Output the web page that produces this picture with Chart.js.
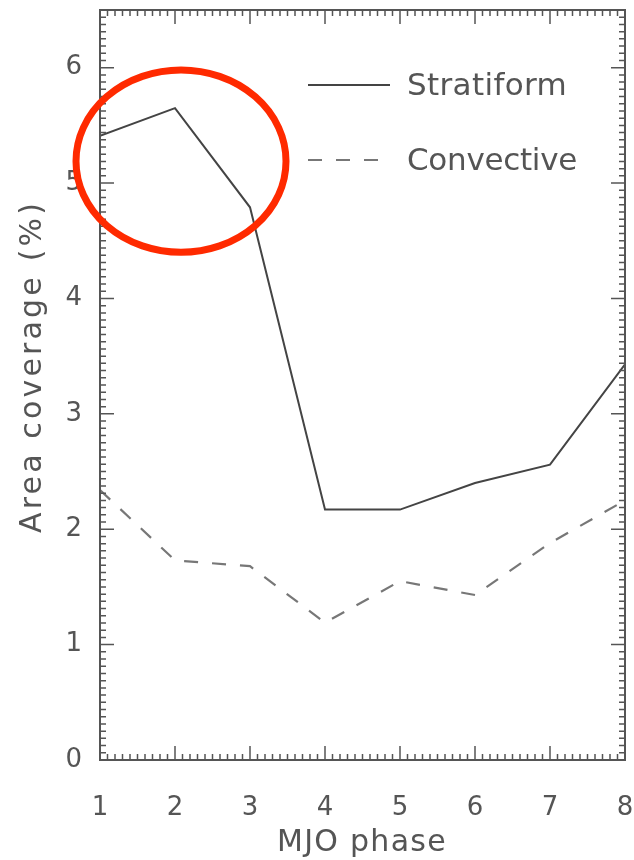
<!DOCTYPE html>
<html>
<head>
<meta charset="utf-8">
<script src="https://cdn.jsdelivr.net/npm/chart.js@4"></script>
<style>
  html, body { margin: 0; padding: 0; background: #fff; }
  #wrap { width: 634px; height: 860px; }
</style>
</head>
<body>
<div id="wrap"><canvas id="chart" width="634" height="860"></canvas></div>
<script>
// MJO phase and area coverage (%)
const phases = [1, 2, 3, 4, 5, 6, 7, 8];
const stratiform = [5.41, 5.65, 4.79, 2.17, 2.17, 2.40, 2.56, 3.43];
const convective = [2.34, 1.73, 1.68, 1.19, 1.55, 1.43, 1.88, 2.25];
const yTicks = [0, 1, 2, 3, 4, 5, 6];
const xTicks = [1, 2, 3, 4, 5, 6, 7, 8];
const seriesNames = ['Stratiform', 'Convective'];
const xTitle = 'MJO phase';
const yTitle = 'Area coverage (%)';

const ink = '#555';
const font = '"DejaVu Sans", sans-serif';

// draw text stretched to a given width (the original font is very wide)
function wideText(ctx, text, x, y, width, size) {
    ctx.font = size + 'px ' + font;
    ctx.letterSpacing = '0px';
    const w = ctx.measureText(text).width;
    const extra = (width - w) / text.length;
    ctx.letterSpacing = extra.toFixed(2) + 'px';
    ctx.fillText(text, x, y);
    ctx.letterSpacing = '0px';
}

function noPad(s) {
    s.paddingTop = 0; s.paddingBottom = 0;
    s.paddingLeft = 0; s.paddingRight = 0;
}

// frame with inward ticks on all four sides, titles, legend and highlight ring
const framePlugin = {
    id: 'frame',
    afterDraw(chart) {
        const ctx = chart.ctx;
        const a = chart.chartArea;
        const xs = chart.scales.x, ys = chart.scales.y;
        ctx.save();
        ctx.strokeStyle = ink;
        ctx.lineWidth = 2;
        ctx.strokeRect(a.left, a.top, a.right - a.left, a.bottom - a.top);

        ctx.lineWidth = 1.5;
        ctx.beginPath();
        for (let v = 1; v <= 8.0001; v += 0.1) {
            const px = xs.getPixelForValue(v);
            const major = Math.abs(v - Math.round(v)) < 0.01;
            const len = major ? 14 : 6;
            ctx.moveTo(px, a.bottom); ctx.lineTo(px, a.bottom - len);
            ctx.moveTo(px, a.top); ctx.lineTo(px, a.top + len);
        }
        for (let v = 0; v <= 6.5; v += 1 / 16) {
            const py = ys.getPixelForValue(v);
            const major = Math.abs(v - Math.round(v)) < 0.01;
            const len = major ? 14 : 6;
            ctx.moveTo(a.left, py); ctx.lineTo(a.left + len, py);
            ctx.moveTo(a.right, py); ctx.lineTo(a.right - len, py);
        }
        ctx.stroke();

        ctx.fillStyle = ink;
        ctx.textBaseline = 'middle';

        // axis titles
        wideText(ctx, xTitle, 277, 843, 170, 30);
        ctx.save();
        ctx.translate(33, 533);
        ctx.rotate(-Math.PI / 2);
        wideText(ctx, yTitle, 0, 0, 333, 30);
        ctx.restore();

        // legend
        ctx.strokeStyle = '#444';
        ctx.lineWidth = 2;
        ctx.beginPath();
        ctx.moveTo(308, 85); ctx.lineTo(390, 85);
        ctx.stroke();
        wideText(ctx, seriesNames[0], 407, 87, 160, 31);
        ctx.strokeStyle = '#777';
        ctx.setLineDash([14, 14]);
        ctx.beginPath();
        ctx.moveTo(308, 160); ctx.lineTo(390, 160);
        ctx.stroke();
        ctx.setLineDash([]);
        wideText(ctx, seriesNames[1], 407, 162, 170, 31);

        // red highlight ring
        const cx = xs.getPixelForValue(2.08), cy = ys.getPixelForValue(5.19);
        const rx = xs.getPixelForValue(3.48) - cx, ry = cy - ys.getPixelForValue(5.98);
        ctx.strokeStyle = '#ff2a00';
        ctx.lineWidth = 7;
        ctx.beginPath();
        ctx.ellipse(cx, cy, rx, ry, 0, 0, Math.PI * 2);
        ctx.stroke();
        ctx.restore();
    }
};

new Chart(document.getElementById('chart'), {
    type: 'line',
    data: {
        datasets: [{
            label: seriesNames[0],
            data: phases.map((p, i) => ({ x: p, y: stratiform[i] })),
            borderColor: '#444',
            borderWidth: 2,
            pointRadius: 0,
            tension: 0
        }, {
            label: seriesNames[1],
            data: phases.map((p, i) => ({ x: p, y: convective[i] })),
            borderColor: '#777',
            borderWidth: 2.2,
            borderDash: [14, 14],
            pointRadius: 0,
            tension: 0
        }]
    },
    options: {
        responsive: false,
        animation: false,
        layout: { padding: { top: 10, right: 9, left: 0, bottom: 0 } },
        plugins: { legend: { display: false }, tooltip: { enabled: false } },
        scales: {
            x: {
                type: 'linear',
                min: 1, max: 8,
                afterBuildTicks: s => { s.ticks = xTicks.map(v => ({ value: v })); },
                afterFit: s => { s.height = 100; noPad(s); },
                grid: { display: false },
                border: { display: false },
                ticks: { color: ink, font: { family: font, size: 26 }, padding: 25, maxRotation: 0 }
            },
            y: {
                min: 0, max: 6.5,
                afterBuildTicks: s => { s.ticks = yTicks.map(v => ({ value: v })); },
                afterFit: s => { s.width = 100; noPad(s); },
                grid: { display: false },
                border: { display: false },
                ticks: { color: ink, font: { family: font, size: 26 }, padding: 10 }
            }
        }
    },
    plugins: [framePlugin]
});
</script>
</body>
</html>
